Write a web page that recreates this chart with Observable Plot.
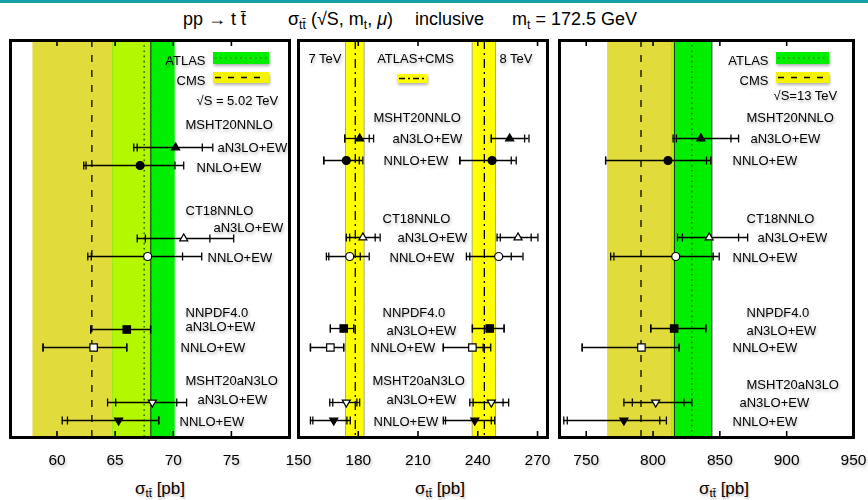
<!DOCTYPE html>
<html><head><meta charset="utf-8">
<script src="https://cdn.jsdelivr.net/npm/d3@7"></script>
<script src="https://cdn.jsdelivr.net/npm/@observablehq/plot@0.6"></script>
<style>
body{margin:0;background:#fff;font-family:"Liberation Sans",Arial,Helvetica,sans-serif;color:#000;}
#root{position:relative;width:868px;height:500px;overflow:hidden;background:#fff;}
.topline{position:absolute;left:0;top:0;width:868px;height:3px;background:#17a0a8;}
.tp{position:absolute;top:8px;font-size:18px;line-height:22px;white-space:nowrap;}
.xlab{position:absolute;top:479px;font-size:17px;line-height:20px;transform:translateX(-50%);white-space:nowrap;text-shadow:1px 2px 2px rgba(0,0,0,0.25);}
sub{font-size:0.68em;vertical-align:-0.3em;line-height:0;}
.panel g[aria-label="frame"]{filter:drop-shadow(2px 3px 2px rgba(0,0,0,0.35));}
.panel g[aria-label="text"]{filter:drop-shadow(1px 2px 1.5px rgba(0,0,0,0.3));}
</style></head>
<body><div id="root">
<div class="topline"></div>
<div class="tp" style="left:183px">pp → t t̄</div>
<div class="tp" style="left:288px">σ<sub>tt̄</sub> (√S, m<sub>t</sub>, <i>μ</i>)</div>
<div class="tp" style="left:415px">inclusive</div>
<div class="tp" style="left:512px">m<sub>t</sub> = 172.5 GeV</div>
</div>
<script>
// ---------------- data ----------------
const pdfs = ["MSHT20NNLO", "CT18NNLO", "NNPDF4.0", "MSHT20aN3LO"];
const orders = ["aN3LO+EW", "NNLO+EW"];
// each row: [central, outer low, inner low, inner high, outer high]; rows = pdf x order
const pred502 = [
  [70.2, 66.6, 66.9, 72.5, 73.4], [67.15, 62.3, 62.5, 70.15, 70.9],
  [70.9, 66.9, 67.6, 73.15, 75.2], [67.8, 62.65, 62.95, 70.8, 72.45],
  [66.0, 62.9, 62.9, 68.05, 68.05], [63.15, 58.8, 58.8, 66.0, 66.0],
  [68.2, 64.35, 65.05, 70.3, 71.15], [65.3, 60.45, 60.9, 68.75, 68.75]
];
const pred7 = [
  [180.7, 173.2, 173.2, 185.5, 187.7], [174.0, 162.7, 162.7, 180.5, 182.3],
  [182.3, 174.0, 175.7, 188.5, 191.0], [175.7, 164.0, 165.2, 181.0, 185.5],
  [172.7, 166.0, 166.0, 177.7, 177.7], [166.0, 156.0, 156.0, 172.7, 172.7],
  [174.0, 165.7, 167.2, 179.3, 180.7], [167.7, 156.0, 157.2, 174.3, 176.0]
];
const pred8 = [
  [256.0, 246.8, 246.8, 263.5, 265.7], [247.2, 231.0, 231.0, 256.8, 259.3],
  [260.2, 249.7, 251.3, 266.8, 270.2], [250.5, 234.3, 236.0, 256.8, 262.7],
  [246.0, 237.3, 237.3, 253.2, 253.2], [237.3, 222.7, 222.7, 242.7, 246.5],
  [246.8, 236.0, 237.7, 252.7, 255.5], [238.5, 222.7, 223.8, 246.8, 248.5]
];
const pred13 = [
  [835.8, 815.0, 817.5, 858.3, 864.0], [811.2, 764.5, 764.5, 840.0, 843.2],
  [842.0, 818.3, 822.0, 864.0, 870.8], [817.0, 768.3, 770.7, 845.0, 849.5],
  [815.8, 798.3, 798.3, 839.5, 839.5], [791.3, 747.0, 747.0, 819.5, 819.5],
  [802.0, 778.2, 784.5, 823.2, 829.0], [778.2, 733.2, 735.8, 805.0, 810.0]
];
// measurements: [central, total uncertainty]
const atlas502 = [67.5, 2.67];
const cms502 = [63.0, 5.07];
const atlas13 = [829, 15];
const cms13 = [791, 25];
const atlasCms7 = [178.5, 4.7];
const atlasCms8 = [243.3, 5.9];
// axes
const ticks502 = [60, 65, 70, 75];
const tickLabels502 = [60, 65, 70, 75];
const ticks78 = [180, 210, 240, 270];
const tickLabels78 = [150, 180, 210, 240, 270];
const ticks13 = [750, 800, 850, 900];
const tickLabels13 = [750, 800, 850, 900, 950];

// ---------------- layout / style ----------------
const TOP = 38, H = 462, MT = 2, MB = 63, FH = H - MT - MB; // frame 40..437
const OLIVE = "#e1dc3b", LIME = "#b4f800", GREEN = "#00ee00", YEL = "#ffff00", LEGYEL = "#f4f400";
const sq3 = Math.sqrt(3);
const triDown = {draw(ctx, size) { const y = Math.sqrt(size / (sq3 * 3)); ctx.moveTo(0, y * 2); ctx.lineTo(-sq3 * y, -y); ctx.lineTo(sq3 * y, -y); ctx.closePath(); }};
const vbar = {draw(ctx, size) { const h = Math.sqrt(size / Math.PI); ctx.moveTo(0, -h); ctx.lineTo(0, h); }};
const markerSym = [["triangle", "circle"], ["triangle", "circle"], ["square", "square"], [triDown, triDown]];
const markerFill = [["black", "black"], ["white", "white"], ["black", "white"], ["white", "black"]];
const markerR = {triangle: 3.0, circle: 4.0, square: 4.2};

function rowsOf(pred, rowY) {
  return pred.map((p, i) => ({
    pdf: pdfs[Math.floor(i / 2)], order: orders[i % 2], g: Math.floor(i / 2), o: i % 2,
    c: p[0], oLo: p[1], iLo: p[2], iHi: p[3], oHi: p[4], y: rowY[i]
  }));
}

function panel(cfg) {
  const xs = d3.scaleLinear(cfg.domain, [cfg.left + cfg.mL, cfg.left + cfg.width - cfg.mR]);
  const marks = [];
  for (const b of cfg.bands) marks.push(Plot.rect([b], {x1: d => d.c - d.e, x2: d => d.c + d.e, fill: b.fill, stroke: b.edge || "none", strokeWidth: 0.7}));
  if (cfg.overlap) {
    const [a, b] = cfg.overlap;
    const lo = Math.max(a.c - a.e, b.c - b.e), hi = Math.min(a.c + a.e, b.c + b.e);
    if (hi > lo) marks.push(Plot.rect([{lo, hi}], {x1: "lo", x2: "hi", fill: LIME}));
  }
  for (const e of cfg.edges || []) marks.push(Plot.ruleX([e], {x: d => d, stroke: "#222", strokeWidth: 1}));
  for (const l of cfg.lines) marks.push(Plot.ruleX([l.c], {x: d => d, stroke: l.stroke, strokeWidth: l.w, strokeDasharray: l.dash}));
  marks.push(Plot.ruleX(cfg.ticks, {x: d => d, insetTop: FH - 6, stroke: "black", strokeWidth: 1.6}));
  marks.push(Plot.ruleX(cfg.ticks, {x: d => d, insetBottom: FH - 6, stroke: "black", strokeWidth: 1.6}));
  marks.push(Plot.text(cfg.tickLabels, {x: d => d, frameAnchor: "bottom", dy: 23, fontSize: 15.5, lineAnchor: "middle", fill: "black"}));
  for (const rows of cfg.sets) {
    marks.push(Plot.ruleY(rows, {y: "y", x1: "oLo", x2: "oHi", stroke: "black", strokeWidth: 1.3}));
    const caps = rows.flatMap(r => [r.oLo, r.iLo, r.iHi, r.oHi].map(x => ({x, y: r.y})));
    marks.push(Plot.dot(caps, {x: "x", y: "y", symbol: vbar, r: 4, stroke: "black", strokeWidth: 1.3}));
    const groups = d3.group(rows, r => markerSym[r.g][r.o]);
    for (const [sym, rs] of groups) {
      marks.push(Plot.dot(rs, {x: "c", y: "y", symbol: sym, r: markerR[sym] || 3.0,
        fill: r => markerFill[r.g][r.o], stroke: "black", strokeWidth: 1.2}));
    }
  }
  const lab = [];
  pdfs.forEach((p, g) => {
    lab.push({t: p, x: xs.invert(cfg.lab.hx[g]), y: cfg.lab.hy[g]});
    lab.push({t: orders[0], x: xs.invert(cfg.lab.ax[g]), y: cfg.lab.ay[g]});
    lab.push({t: orders[1], x: xs.invert(cfg.lab.nx[g]), y: cfg.lab.ny[g]});
  });
  for (const t of cfg.extraText || []) lab.push({t: t.t, x: xs.invert(t.x), y: t.y, anchor: t.anchor});
  marks.push(Plot.text(lab.filter(d => !d.anchor), {x: "x", y: "y", text: "t", textAnchor: "start", fontSize: 13, fill: "black"}));
  marks.push(Plot.text(lab.filter(d => d.anchor === "end"), {x: "x", y: "y", text: "t", textAnchor: "end", fontSize: 13, fill: "black"}));
  marks.push(Plot.text(lab.filter(d => d.anchor === "middle"), {x: "x", y: "y", text: "t", textAnchor: "middle", fontSize: 13, fill: "black"}));
  if (cfg.swatches) {
    marks.push(() => {
      const g = d3.create("svg:g");
      for (const s of cfg.swatches) {
        const x0 = s.x - cfg.left, y0 = s.y - TOP;
        g.append("rect").attr("x", x0).attr("y", y0).attr("width", s.w).attr("height", s.h).attr("fill", s.fill)
          .style("filter", "drop-shadow(1px 2px 1.5px rgba(0,0,0,0.3))");
        g.append("line").attr("x1", x0 + 2).attr("x2", x0 + s.w - 2).attr("y1", y0 + s.h / 2).attr("y2", y0 + s.h / 2)
          .attr("stroke", s.stroke).attr("stroke-width", s.sw).attr("stroke-dasharray", s.dash);
      }
      return g.node();
    });
  }
  marks.push(Plot.frame({stroke: "black", strokeWidth: 3}));
  const svg = Plot.plot({
    width: cfg.width, height: H, marginTop: MT, marginBottom: MB, marginLeft: cfg.mL, marginRight: cfg.mR,
    style: {background: "transparent", overflow: "visible", fontFamily: "'Liberation Sans', Arial, sans-serif"},
    x: {domain: cfg.domain, axis: null},
    y: {domain: [0, FH], reverse: true, axis: null},
    marks
  });
  svg.classList.add("panel");
  svg.style.left = cfg.left + "px";
  svg.style.top = TOP + "px";
  svg.style.position = "absolute";
  document.getElementById("root").appendChild(svg);
}

const rowY1 = [107, 125, 198, 216, 289, 307, 362, 380];
const rowY23 = [98, 120, 197, 216, 288, 307, 362, 380];

panel({
  left: 0, width: 294, mL: 10, mR: 5, domain: [56, 80],
  bands: [{c: cms502[0], e: cms502[1], fill: OLIVE}, {c: atlas502[0], e: atlas502[1], fill: GREEN}],
  overlap: [{c: cms502[0], e: cms502[1]}, {c: atlas502[0], e: atlas502[1]}],
  edges: [cms502[0] + cms502[1]],
  lines: [{c: cms502[0], stroke: "black", w: 1.3, dash: "7,8"}, {c: atlas502[0], stroke: "#2f6a00", w: 1.6, dash: "1.6,3.6"}],
  ticks: ticks502, tickLabels: tickLabels502,
  sets: [rowsOf(pred502, rowY1)],
  lab: {hx: [185, 185, 185, 185], hy: [84, 170, 272, 340], ax: [217, 213, 185, 197], ay: [107, 187, 286, 359], nx: [196, 207, 180, 179], ny: [127, 217, 307, 381]},
  extraText: [{t: "ATLAS", x: 205, y: 20, anchor: "end"}, {t: "CMS", x: 205, y: 40, anchor: "end"}, {t: "√S = 5.02 TeV", x: 196, y: 60}],
  swatches: [{x: 213, y: 52, w: 56, h: 12, fill: GREEN, stroke: "#3a8a00", sw: 1.6, dash: "1.5,3.5"},
             {x: 213, y: 72, w: 56, h: 11, fill: LEGYEL, stroke: "black", sw: 1.3, dash: "6,7"}]
});

panel({
  left: 294, width: 258, mL: 4, mR: 5, domain: [150, 275],
  bands: [{c: atlasCms7[0], e: atlasCms7[1], fill: YEL, edge: "#888"}, {c: atlasCms8[0], e: atlasCms8[1], fill: YEL, edge: "#888"}],
  lines: [{c: atlasCms7[0], stroke: "black", w: 1.3, dash: "9,4,2,4"}, {c: atlasCms8[0], stroke: "black", w: 1.3, dash: "9,4,2,4"}],
  ticks: ticks78, tickLabels: tickLabels78,
  sets: [rowsOf(pred7, rowY23), rowsOf(pred8, rowY23)],
  lab: {hx: [373, 382, 382, 372], hy: [77, 178, 272, 340], ax: [392, 397, 386, 386], ay: [98, 197, 290, 359], nx: [383, 389, 370, 373], ny: [120, 217, 307, 381]},
  extraText: [{t: "7 TeV", x: 308, y: 18}, {t: "ATLAS+CMS", x: 415, y: 18, anchor: "middle"}, {t: "8 TeV", x: 499, y: 18}],
  swatches: [{x: 397, y: 74, w: 30, h: 9, fill: YEL, stroke: "black", sw: 1.3, dash: "6,3,2,3"}]
});

panel({
  left: 552, width: 316, mL: 7, mR: 15, domain: [730, 950],
  bands: [{c: cms13[0], e: cms13[1], fill: OLIVE}, {c: atlas13[0], e: atlas13[1], fill: GREEN}],
  overlap: [{c: cms13[0], e: cms13[1]}, {c: atlas13[0], e: atlas13[1]}],
  edges: [cms13[0] + cms13[1], atlas13[0] + atlas13[1]],
  lines: [{c: cms13[0], stroke: "black", w: 1.3, dash: "7,8"}, {c: atlas13[0], stroke: "#2f6a00", w: 1.6, dash: "1.6,3.6"}],
  ticks: ticks13, tickLabels: tickLabels13,
  sets: [rowsOf(pred13, rowY23)],
  lab: {hx: [746, 746, 746, 746], hy: [77, 178, 272, 344], ax: [750, 757, 746, 739], ay: [98, 197, 290, 362], nx: [732, 732, 732, 732], ny: [120, 217, 307, 381]},
  extraText: [{t: "ATLAS", x: 768, y: 20, anchor: "end"}, {t: "CMS", x: 768, y: 40, anchor: "end"}, {t: "√S=13 TeV", x: 773, y: 55}],
  swatches: [{x: 776, y: 52, w: 53, h: 12, fill: GREEN, stroke: "#3a8a00", sw: 1.6, dash: "1.5,3.5"},
             {x: 776, y: 72, w: 53, h: 11, fill: LEGYEL, stroke: "black", sw: 1.3, dash: "6,7"}]
});

for (const cx of [160, 440, 724]) {
  const d = document.createElement("div");
  d.className = "xlab";
  d.style.left = cx + "px";
  d.innerHTML = "σ<sub>tt̄</sub> [pb]";
  document.getElementById("root").appendChild(d);
}
</script>
</body></html>
